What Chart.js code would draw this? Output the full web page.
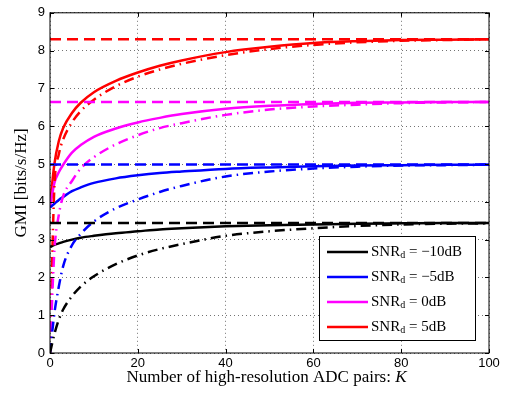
<!DOCTYPE html>
<html>
<head>
<meta charset="utf-8">
<script src="https://cdn.jsdelivr.net/npm/chart.js@4.4.1/dist/chart.umd.min.js"></script>
<style>
  body { margin: 0; background: #fff; }
  canvas { display: block; }
</style>
</head>
<body>
<canvas id="gmi-chart" width="509" height="400"></canvas>
<script>
// number of high-resolution ADC pairs K
const kValues = [0, 1, 2, 3, 5, 7, 10, 15, 20, 25, 30, 40, 50, 60, 70, 80, 90, 100];

// legend text for each SNR_d
const snrLabels = ['\u221210dB', '\u22125dB', '0dB', '5dB'];
const snrColors = ['#000000', '#0000ff', '#ff00ff', '#ff0000'];

// solid curves
const solidM10 = [2.8, 2.86, 2.9, 2.94, 3.0, 3.05, 3.1, 3.17, 3.22, 3.27, 3.3, 3.35, 3.38, 3.4, 3.42, 3.43, 3.44, 3.44];
const solidM5 = [3.85, 3.95, 4.05, 4.13, 4.28, 4.38, 4.5, 4.62, 4.7, 4.76, 4.8, 4.87, 4.91, 4.94, 4.96, 4.97, 4.98, 4.98];
const solid0 = [3.85, 4.5, 4.78, 4.98, 5.3, 5.5, 5.72, 5.94, 6.1, 6.22, 6.32, 6.46, 6.54, 6.59, 6.62, 6.63, 6.64, 6.64];
const solid5 = [3.9, 5.0, 5.6, 5.95, 6.35, 6.62, 6.9, 7.2, 7.42, 7.6, 7.74, 7.96, 8.1, 8.2, 8.25, 8.28, 8.29, 8.3];

// dash-dot curves
const dashDotM10 = [0, 0.5, 0.88, 1.15, 1.5, 1.76, 2.03, 2.35, 2.58, 2.75, 2.88, 3.1, 3.22, 3.3, 3.36, 3.4, 3.42, 3.43];
const dashDotM5 = [0, 1.05, 1.75, 2.3, 2.85, 3.15, 3.48, 3.83, 4.06, 4.26, 4.42, 4.67, 4.8, 4.88, 4.93, 4.96, 4.97, 4.98];
const dashDot0 = [0, 2.7, 3.65, 4.15, 4.55, 4.88, 5.18, 5.52, 5.76, 5.95, 6.08, 6.3, 6.44, 6.52, 6.57, 6.61, 6.63, 6.64];
const dashDot5 = [0, 4.4, 5.25, 5.65, 6.1, 6.4, 6.7, 7.06, 7.31, 7.5, 7.65, 7.88, 8.04, 8.15, 8.22, 8.26, 8.28, 8.3];

// dashed horizontal limits
const limitK = [0, 100];
const limitValues = [3.44, 4.99, 6.64, 8.3];

const xTicks = [0, 20, 40, 60, 80, 100];
const yTicks = [0, 1, 2, 3, 4, 5, 6, 7, 8, 9];

const solids = [solidM10, solidM5, solid0, solid5];
const dashDots = [dashDotM10, dashDotM5, dashDot0, dashDot5];

const toPoints = (xs, ys) => xs.map((x, i) => ({x: x, y: ys[i]}));

const datasets = [];
limitValues.forEach((v, i) => {
    datasets.push({
        label: 'limit ' + snrLabels[i],
        data: toPoints(limitK, [v, v]),
        borderColor: snrColors[i],
        borderWidth: 2.5,
        borderDash: [11, 6],
        pointRadius: 0,
        fill: false
    });
});
dashDots.forEach((d, i) => {
    datasets.push({
        label: 'dash-dot ' + snrLabels[i],
        data: toPoints(kValues, d),
        borderColor: snrColors[i],
        borderWidth: 2.5,
        borderDash: [10, 5, 1.5, 5],
        pointRadius: 0,
        cubicInterpolationMode: 'monotone',
        fill: false
    });
});
solids.forEach((d, i) => {
    datasets.push({
        label: snrLabels[i],
        data: toPoints(kValues, d),
        borderColor: snrColors[i],
        borderWidth: 2.5,
        pointRadius: 0,
        cubicInterpolationMode: 'monotone',
        fill: false,
        isLegend: true
    });
});

const serif = '"Liberation Serif", "Times New Roman", serif';

// frame, inner ticks, axis titles and the legend box
const decorPlugin = {
    id: 'decor',
    afterDraw(chart) {
        const ctx = chart.ctx;
        const a = chart.chartArea;
        const xs = chart.scales.x;
        const ys = chart.scales.y;
        ctx.save();
        ctx.strokeStyle = '#000';
        ctx.lineWidth = 1;
        ctx.strokeRect(a.left, a.top, a.right - a.left, a.bottom - a.top);
        ctx.beginPath();
        xTicks.forEach(t => {
            const px = Math.round(xs.getPixelForValue(t)) + 0.5;
            ctx.moveTo(px, a.bottom); ctx.lineTo(px, a.bottom - 4);
            ctx.moveTo(px, a.top); ctx.lineTo(px, a.top + 4);
        });
        yTicks.forEach(t => {
            const py = Math.round(ys.getPixelForValue(t)) + 0.5;
            ctx.moveTo(a.left, py); ctx.lineTo(a.left + 4, py);
            ctx.moveTo(a.right, py); ctx.lineTo(a.right - 4, py);
        });
        ctx.stroke();

        // x title with italic K
        ctx.fillStyle = '#000';
        ctx.textBaseline = 'middle';
        const main = 'Number of high-resolution ADC pairs: ';
        ctx.font = '17px ' + serif;
        const w1 = ctx.measureText(main).width;
        ctx.font = 'italic 17px ' + serif;
        const w2 = ctx.measureText('K').width;
        const x0 = (a.left + a.right) / 2 - (w1 + w2) / 2 - 3;
        ctx.textAlign = 'left';
        ctx.font = '17px ' + serif;
        ctx.fillText(main, x0, 378);
        ctx.font = 'italic 17px ' + serif;
        ctx.fillText('K', x0 + w1, 378);

        // y title
        ctx.save();
        ctx.translate(22, (a.top + a.bottom) / 2);
        ctx.rotate(-Math.PI / 2);
        ctx.textAlign = 'center';
        ctx.font = '17px ' + serif;
        ctx.fillText('GMI [bits/s/Hz]', 0, 0);
        ctx.restore();

        // legend
        const lx = 319, ly = 236, lw = 156, lh = 104;
        ctx.fillStyle = '#fff';
        ctx.fillRect(lx, ly, lw, lh);
        ctx.strokeStyle = '#000';
        ctx.lineWidth = 1;
        ctx.strokeRect(lx + 0.5, ly + 0.5, lw, lh);
        const items = chart.data.datasets.filter(d => d.isLegend);
        items.forEach((d, i) => {
            const ry = 252 + i * 25;
            ctx.strokeStyle = d.borderColor;
            ctx.lineWidth = 2.5;
            ctx.beginPath();
            ctx.moveTo(327, ry); ctx.lineTo(368, ry);
            ctx.stroke();
            ctx.fillStyle = '#000';
            ctx.textAlign = 'left';
            ctx.textBaseline = 'middle';
            ctx.font = '15px ' + serif;
            ctx.fillText('SNR', 371, ry);
            let tx = 371 + ctx.measureText('SNR').width;
            ctx.font = '10px ' + serif;
            ctx.fillText('d', tx, ry + 3);
            tx += ctx.measureText('d').width;
            ctx.font = '15px ' + serif;
            ctx.fillText(' = ' + d.label, tx, ry);
        });
        ctx.restore();
    }
};

new Chart(document.getElementById('gmi-chart').getContext('2d'), {
    type: 'line',
    data: { datasets: datasets },
    options: {
        responsive: false,
        animation: false,
        layout: { padding: { top: 6, right: 20, left: 0, bottom: 0 } },
        plugins: {
            legend: { display: false },
            tooltip: { enabled: false }
        },
        scales: {
            x: {
                type: 'linear',
                min: 0,
                max: 100,
                afterFit: scale => { scale.height = 47; },
                afterBuildTicks: scale => { scale.ticks = xTicks.map(v => ({value: v})); },
                ticks: {
                    padding: 3,
                    color: '#000',
                    font: { family: '"Liberation Sans", Arial, sans-serif', size: 13 }
                },
                grid: { color: 'rgba(0,0,0,0.55)', lineWidth: 1, drawTicks: false },
                border: { display: false, dash: [1, 3] }
            },
            y: {
                min: 0,
                max: 9,
                afterFit: scale => { scale.width = 50; },
                afterBuildTicks: scale => { scale.ticks = yTicks.map(v => ({value: v})); },
                ticks: {
                    padding: 5,
                    color: '#000',
                    font: { family: '"Liberation Sans", Arial, sans-serif', size: 13 }
                },
                grid: { color: 'rgba(0,0,0,0.55)', lineWidth: 1, drawTicks: false },
                border: { display: false, dash: [1, 3] }
            }
        }
    },
    plugins: [decorPlugin]
});
</script>
</body>
</html>
